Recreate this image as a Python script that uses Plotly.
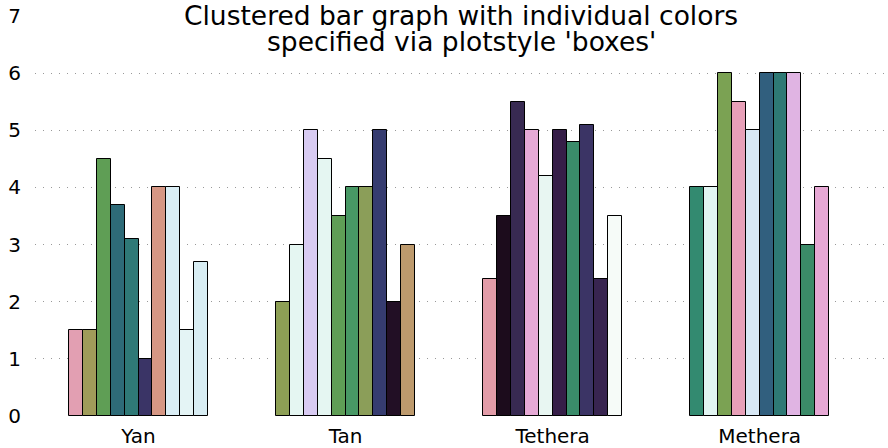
import plotly.graph_objects as go

categories = ["Yan", "Tan", "Tethera", "Methera"]

yan_values = [1.5, 1.5, 4.5, 3.7, 3.1, 1.0, 4.0, 4.0, 1.5, 2.7]
tan_values = [2.0, 3.0, 5.0, 4.5, 3.5, 4.0, 4.0, 5.0, 2.0, 3.0]
tethera_values = [2.4, 3.5, 5.5, 5.0, 4.2, 5.0, 4.8, 5.1, 2.4, 3.5]
methera_values = [4.0, 4.0, 6.0, 5.5, 5.0, 6.0, 6.0, 6.0, 3.0, 4.0]

yan_colors = ["#e29fb2", "#a09c5a", "#5f9e55", "#2e6b78", "#2f7977",
              "#3a3466", "#d69784", "#daeef5", "#e4f4f5", "#d8edf3"]
tan_colors = ["#8d9f55", "#e5f6f2", "#d8cbf2", "#e5f6f2", "#5f9e56",
              "#489865", "#8b9e59", "#363c70", "#220f25", "#bd9a6d"]
tethera_colors = ["#e29ca8", "#1c0c1c", "#382a52", "#e6aad6", "#e8f6f2",
                  "#361e48", "#3a8c6a", "#3b3465", "#382550", "#f6fbf8"]
methera_colors = ["#338a70", "#e2f5f2", "#7ba253", "#e8a0b8", "#d8e8f5",
                  "#315f7e", "#2e7975", "#e0b4e3", "#3b8b68", "#e6a8d4"]

y_tick_values = [0, 1, 2, 3, 4, 5, 6, 7]

groups = [yan_values, tan_values, tethera_values, methera_values]
group_colors = [yan_colors, tan_colors, tethera_colors, methera_colors]

bar_w = 0.067

fig = go.Figure()
for gi, (vals, cols) in enumerate(zip(groups, group_colors)):
    n = len(vals)
    xs = [gi + (j - (n - 1) / 2) * bar_w for j in range(n)]
    fig.add_trace(go.Bar(
        x=xs, y=vals, width=[bar_w] * n,
        marker=dict(color=cols, line=dict(color="black", width=1)),
        showlegend=False, hoverinfo="y",
    ))

W, H = 888, 448
ML, MR, MT, MB = 35, 2, 16, 32

fig.update_layout(
    width=W, height=H,
    margin=dict(l=ML, r=MR, t=MT, b=MB, autoexpand=False),
    paper_bgcolor="white", plot_bgcolor="white",
    font=dict(family="DejaVu Sans", color="black"),
    bargap=0,
    xaxis=dict(
        range=[-0.5, 3.61], automargin=False,
        tickvals=list(range(len(categories))),
        ticktext=categories,
        showgrid=False, zeroline=False, showline=False, ticks="",
        tickfont=dict(size=20, family="DejaVu Sans", color="black"),
        ticklabelstandoff=6,
    ),
    yaxis=dict(
        range=[0, 7], automargin=False,
        tickvals=y_tick_values,
        showgrid=True, gridcolor="#999999", gridwidth=1, griddash="1px,7px",
        zeroline=False, showline=False, ticks="",
        tickfont=dict(size=20, family="DejaVu Sans", color="black"),
        ticklabelstandoff=13,
    ),
)

title_lines = ["Clustered bar graph with individual colors",
               "specified via plotstyle 'boxes'"]
title_baselines = [27, 53]
plot_h = H - MT - MB
for txt, base in zip(title_lines, title_baselines):
    fig.add_annotation(
        text=txt, xref="paper", yref="paper",
        x=(461 - ML) / (W - ML - MR), y=(H - MB - base) / plot_h,
        yanchor="bottom", yshift=-6, showarrow=False,
        font=dict(size=26.5, family="DejaVu Sans", color="black"),
    )

fig.write_html("out.html",
               config={"displayModeBar": False},
               post_script="document.body.style.margin='0';document.body.style.padding='0';")
